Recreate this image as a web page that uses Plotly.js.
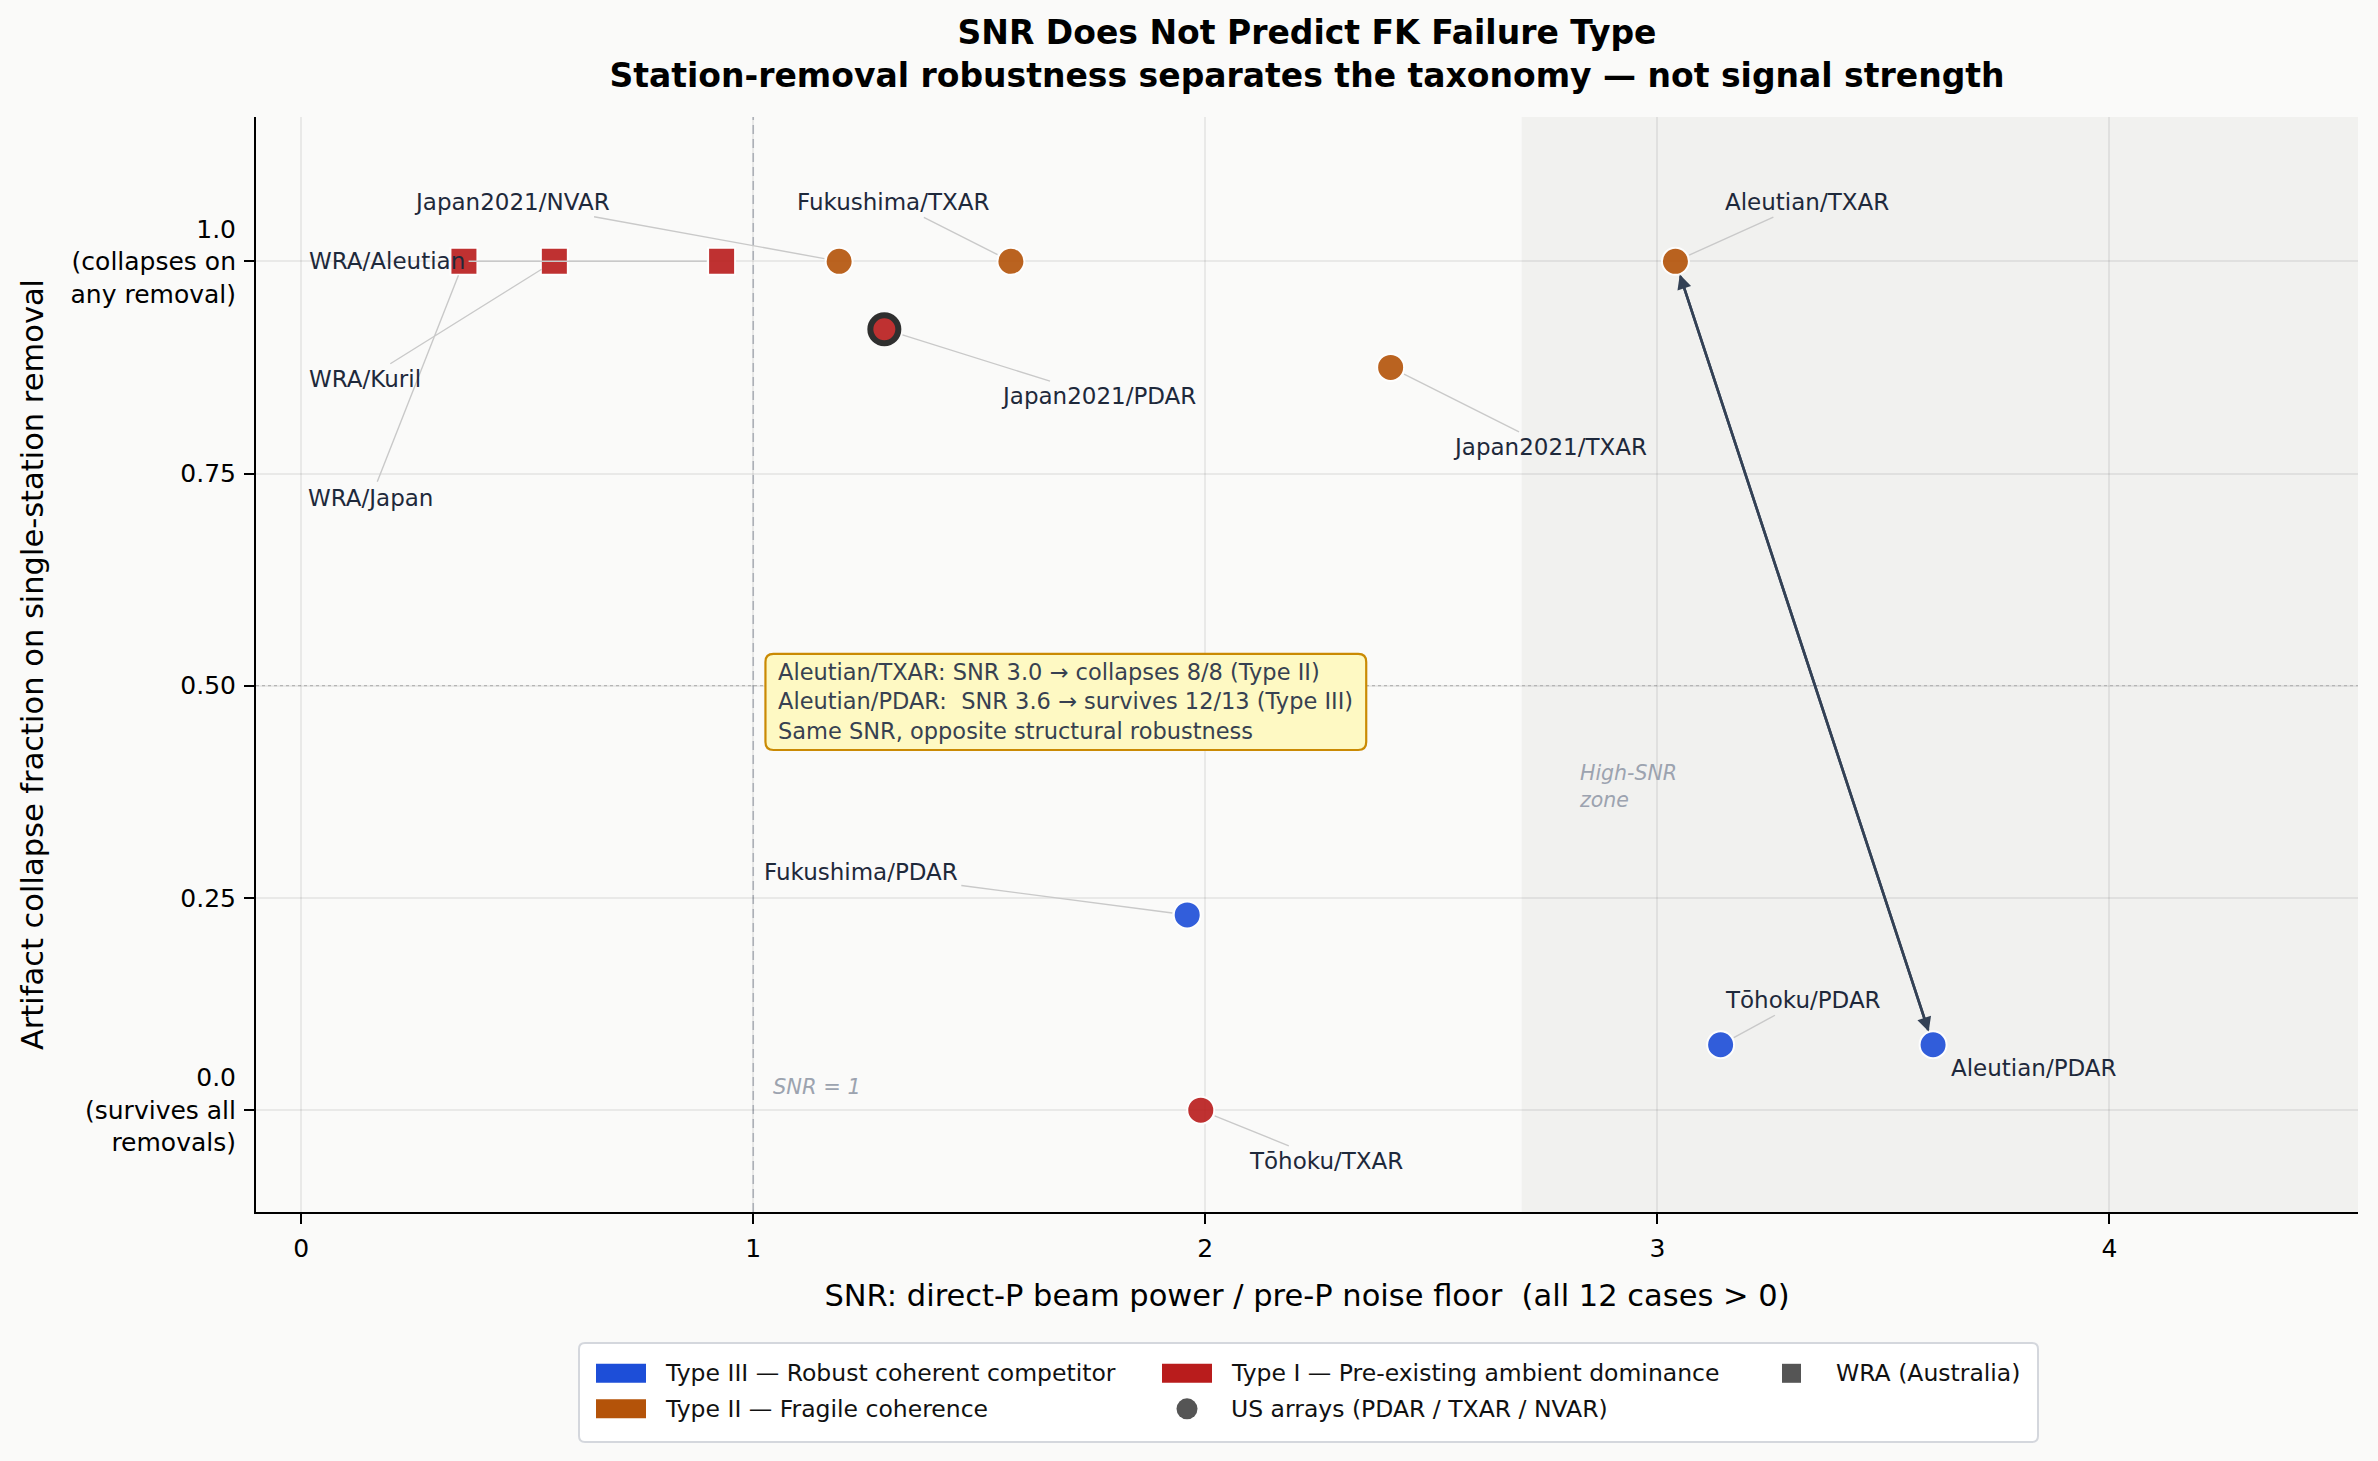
<!DOCTYPE html>
<html>
<head>
<meta charset="utf-8">
<script src="https://cdn.plot.ly/plotly-3.0.1.min.js"></script>
<style>
  html, body { margin: 0; padding: 0; background: #fafaf9; }
  #chart { width: 2378px; height: 1461px; }
</style>
</head>
<body>
<div id="chart"></div>
<script>
// ---- FK robustness cases: one entry per event/array pair ----
const cases = ['WRA/Japan', 'WRA/Kuril', 'WRA/Aleutian', 'Japan2021/NVAR', 'Fukushima/TXAR',
               'Japan2021/PDAR', 'Japan2021/TXAR', 'Aleutian/TXAR', 'Fukushima/PDAR',
               'Tōhoku/TXAR', 'Tōhoku/PDAR', 'Aleutian/PDAR'];
// direct-P beam power / pre-P noise floor
const snr = [0.36, 0.56, 0.93, 1.19, 1.57, 1.29, 2.41, 3.04, 1.96, 1.99, 3.14, 3.61];
// fraction of single-station removals under which the artifact collapses
const collapseFraction = [1.0, 1.0, 1.0, 1.0, 1.0, 0.92, 0.875, 1.0, 0.23, 0.0, 0.077, 0.077];
// failure taxonomy
const failureType = ['I', 'I', 'I', 'II', 'II', 'I', 'II', 'II', 'III', 'I', 'III', 'III'];
// array network
const network = ['WRA', 'WRA', 'WRA', 'US', 'US', 'US', 'US', 'US', 'US', 'US', 'US', 'US'];

const typeLabels = {
  'III': 'Type III — Robust coherent competitor',
  'II': 'Type II — Fragile coherence',
  'I': 'Type I — Pre-existing ambient dominance'
};
const networkLabels = { 'US': 'US arrays (PDAR / TXAR / NVAR)', 'WRA': 'WRA (Australia)' };

const xTickVals = [0, 1, 2, 3, 4];
const xTickText = ['0', '1', '2', '3', '4'];
const yTickVals = [0, 0.25, 0.5, 0.75, 1.0];
const yTickText = ['0.0<br>(survives all<br>removals)', '0.25', '0.50', '0.75', '1.0<br>(collapses on<br>any removal)'];

const highlightCase = 'Japan2021/PDAR';
const pairA = 'Aleutian/TXAR';
const pairB = 'Aleutian/PDAR';

// ---- styling ----
const FONT = 'DejaVu Sans, Verdana, sans-serif';
const typeColors = { 'I': '#b91c1c', 'II': '#b45309', 'III': '#1d4ed8' };
const networkSymbols = { 'US': 'circle', 'WRA': 'square' };
const proxyGray = '#555555';
const labelColor = '#1e293b';
const leaderColor = '#c9c9c9';

// figure geometry (px)
const W = 2378, H = 1461;
const M = { l: 256, r: 20, t: 117, b: 249 };
const plotW = W - M.l - M.r, plotH = H - M.t - M.b;
const pxToPaperX = px => (px - M.l) / plotW;
const pxToPaperY = py => (H - M.b - py) / plotH;

// where each case label sits (data units) and how far its leader stops short of the marker
const labelPlacement = {
  'WRA/Japan':      { tx: 0.154, ty: 0.721, gap: 15 },
  'WRA/Kuril':      { tx: 0.142, ty: 0.861, gap: 15 },
  'WRA/Aleutian':   { tx: 0.190, ty: 1.0,   gap: 15 },
  'Japan2021/NVAR': { tx: 0.467, ty: 1.070, gap: 15 },
  'Fukushima/TXAR': { tx: 1.310, ty: 1.070, gap: 15 },
  'Japan2021/PDAR': { tx: 1.763, ty: 0.841, gap: 19 },
  'Japan2021/TXAR': { tx: 2.762, ty: 0.781, gap: 15 },
  'Aleutian/TXAR':  { tx: 3.332, ty: 1.070, gap: 15 },
  'Fukushima/PDAR': { tx: 1.238, ty: 0.280, gap: 15 },
  'Tōhoku/TXAR':    { tx: 2.268, ty: -0.060, gap: 15 },
  'Tōhoku/PDAR':    { tx: 3.323, ty: 0.130, gap: 15 },
  'Aleutian/PDAR':  { tx: 3.833, ty: 0.050, gap: 0, noLeader: true }
};

// ---- traces ----
const pointTrace = {
  type: 'scatter',
  mode: 'markers',
  x: snr,
  y: collapseFraction,
  text: cases,
  hoverinfo: 'text',
  showlegend: false,
  cliponaxis: false,
  marker: {
    color: failureType.map(t => typeColors[t]),
    symbol: network.map(n => networkSymbols[n]),
    size: cases.map(c => c === highlightCase ? 28 : 27),
    opacity: 0.9,
    line: {
      color: cases.map(c => c === highlightCase ? '#1a1a1a' : '#ffffff'),
      width: cases.map(c => c === highlightCase ? 6 : 2)
    }
  }
};

// ---- annotations ----
const annotations = [];
cases.forEach((name, i) => {
  const p = labelPlacement[name];
  const base = {
    text: name,
    font: { family: FONT, size: 23, color: labelColor },
    xanchor: 'center', yanchor: 'middle'
  };
  if (p.noLeader) {
    annotations.push(Object.assign(base, { x: p.tx, y: p.ty, xref: 'x', yref: 'y', showarrow: false }));
  } else {
    annotations.push(Object.assign(base, {
      x: snr[i], y: collapseFraction[i], xref: 'x', yref: 'y',
      ax: p.tx, ay: p.ty, axref: 'x', ayref: 'y',
      showarrow: true, arrowhead: 0, arrowwidth: 1.4, arrowcolor: leaderColor,
      standoff: p.gap, startstandoff: 2
    }));
  }
});

// double-headed arrow linking the two Aleutian cases
const ia = cases.indexOf(pairA), ib = cases.indexOf(pairB);
[[ia, ib], [ib, ia]].forEach(([h, t]) => {
  annotations.push({
    x: snr[h], y: collapseFraction[h], xref: 'x', yref: 'y',
    ax: snr[t], ay: collapseFraction[t], axref: 'x', ayref: 'y',
    text: '', showarrow: true, arrowhead: 2, arrowsize: 1.1, arrowwidth: 2.6,
    arrowcolor: '#334155', standoff: 14, startstandoff: 14
  });
});

// comparison call-out
const fmt1 = v => (Math.round(v * 10) / 10).toFixed(1);
const nA = 8, nB = 13;
const collapsedA = Math.round(collapseFraction[ia] * nA);
const survivedB = nB - Math.round(collapseFraction[ib] * nB);
const callout = { x0: 1.027, x1: 2.356, y0: 0.4243, y1: 0.5374, rx: 0.0177, ry: 0.0094 };
annotations.push({
  x: 1.050, y: (callout.y0 + callout.y1) / 2, xref: 'x', yref: 'y', xanchor: 'left', yanchor: 'middle',
  align: 'left', showarrow: false,
  text: pairA + ': SNR ' + fmt1(snr[ia]) + ' → collapses ' + collapsedA + '/' + nA + ' (Type II)<br>' +
        pairB + ':\u00a0 SNR ' + fmt1(snr[ib]) + ' → survives ' + survivedB + '/' + nB + ' (Type III)<br>' +
        'Same SNR, opposite structural robustness',
  font: { family: FONT, size: 22.5, color: '#374151' }
});

annotations.push({
  x: 1.04, y: 0.027, xref: 'x', yref: 'y', xanchor: 'left', yanchor: 'middle',
  text: '<i>SNR = 1</i>', showarrow: false,
  font: { family: FONT, size: 21, color: '#9ca3af' }
});
annotations.push({
  x: 2.823, y: 0.381, xref: 'x', yref: 'y', xanchor: 'left', yanchor: 'middle', align: 'left',
  text: '<i>High-SNR<br>zone</i>', showarrow: false,
  font: { family: FONT, size: 20.5, color: '#9ca3af' }
});

// ---- rounded rectangle path ----
function roundedRect(x0, y0, x1, y1, rx, ry) {
  return 'M' + (x0 + rx) + ',' + y1 +
    ' L' + (x1 - rx) + ',' + y1 + ' Q' + x1 + ',' + y1 + ' ' + x1 + ',' + (y1 - ry) +
    ' L' + x1 + ',' + (y0 + ry) + ' Q' + x1 + ',' + y0 + ' ' + (x1 - rx) + ',' + y0 +
    ' L' + (x0 + rx) + ',' + y0 + ' Q' + x0 + ',' + y0 + ' ' + x0 + ',' + (y0 + ry) +
    ' L' + x0 + ',' + (y1 - ry) + ' Q' + x0 + ',' + y1 + ' ' + (x0 + rx) + ',' + y1 + ' Z';
}

const shapes = [
  // high-SNR zone
  { type: 'rect', xref: 'x', yref: 'paper', x0: 2.7, x1: 4.6, y0: 0, y1: 1,
    fillcolor: '#f1f1ef', line: { width: 0 }, layer: 'below' },
  // SNR = 1
  { type: 'line', xref: 'x', yref: 'paper', x0: 1, x1: 1, y0: 0, y1: 1,
    line: { color: '#b9bdc5', width: 1.6, dash: '9px,5px' }, layer: 'between' },
  // 50 % collapse
  { type: 'line', xref: 'paper', yref: 'y', x0: 0, x1: 1, y0: 0.5, y1: 0.5,
    line: { color: '#c2c2c2', width: 1.3, dash: 'dot' }, layer: 'between' },
  // call-out box
  { type: 'path', xref: 'x', yref: 'y',
    path: roundedRect(callout.x0, callout.y0, callout.x1, callout.y1, callout.rx, callout.ry),
    fillcolor: '#fef9c3', line: { color: '#ca8a04', width: 2.2 }, layer: 'above' }
];

// ---- legend (three columns below the axes) ----
const legendEntries = [
  { label: typeLabels['III'], swatch: 'patch',  color: typeColors['III'], col: 0, row: 0 },
  { label: typeLabels['II'],  swatch: 'patch',  color: typeColors['II'],  col: 0, row: 1 },
  { label: typeLabels['I'],   swatch: 'patch',  color: typeColors['I'],   col: 1, row: 0 },
  { label: networkLabels['US'],  swatch: 'circle', color: proxyGray, col: 1, row: 1 },
  { label: networkLabels['WRA'], swatch: 'square', color: proxyGray, col: 2, row: 0 }
];
const legendBox = { left: 579, right: 2038, top: 1343, bottom: 1442 };
const legendColX = [621, 1187, 1791.5];
const legendRowY = [1373.3, 1408.8];

shapes.push({
  type: 'path', xref: 'paper', yref: 'paper', layer: 'above',
  path: roundedRect(pxToPaperX(legendBox.left), pxToPaperY(legendBox.bottom),
                    pxToPaperX(legendBox.right), pxToPaperY(legendBox.top),
                    6 / plotW, 6 / plotH),
  fillcolor: '#ffffff', line: { color: '#d4d7dd', width: 2 }
});

legendEntries.forEach(e => {
  const cx = legendColX[e.col], cy = legendRowY[e.row];
  const half = e.swatch === 'patch' ? [25, 9.5] : e.swatch === 'circle' ? [10.5, 10.5] : [9.5, 9.5];
  shapes.push({
    type: e.swatch === 'circle' ? 'circle' : 'rect', xref: 'paper', yref: 'paper', layer: 'above',
    x0: pxToPaperX(cx - half[0]), x1: pxToPaperX(cx + half[0]),
    y0: pxToPaperY(cy + half[1]), y1: pxToPaperY(cy - half[1]),
    fillcolor: e.color, line: { width: 0 }
  });
  annotations.push({
    xref: 'paper', yref: 'paper', x: pxToPaperX(cx + 42), y: pxToPaperY(cy),
    xanchor: 'left', yanchor: 'middle', showarrow: false, text: e.label,
    font: { family: FONT, size: 23.5, color: '#111111' }
  });
});

const layout = {
  width: W, height: H,
  margin: { l: M.l, r: M.r, t: M.t, b: M.b, autoexpand: false },
  paper_bgcolor: '#fafaf9',
  plot_bgcolor: '#fafaf9',
  font: { family: FONT, color: '#000000' },
  showlegend: false,
  title: {
    text: '<b>SNR Does Not Predict FK Failure Type</b><br><b>Station-removal robustness separates the taxonomy — not signal strength</b>',
    font: { family: FONT, size: 33, color: '#000000' },
    x: 0.5, xref: 'paper', xanchor: 'center',
    y: 0.970, yref: 'container', yanchor: 'top'
  },
  xaxis: {
    range: [-0.1, 4.55], tickvals: xTickVals, ticktext: xTickText,
    showgrid: true, gridcolor: 'rgba(0,0,0,0.065)', gridwidth: 1.5, zeroline: false,
    showline: true, linecolor: '#000000', linewidth: 2,
    ticks: 'outside', ticklen: 10, tickwidth: 1.6, tickcolor: '#000000',
    ticklabelstandoff: 3,
    tickfont: { family: FONT, size: 25, color: '#000000' },
    title: { text: 'SNR: direct-P beam power / pre-P noise floor\u00a0 (all 12 cases > 0)',
             font: { family: FONT, size: 30.5, color: '#000000' }, standoff: 23 }
  },
  yaxis: {
    range: [-0.12, 1.17], tickvals: yTickVals, ticktext: yTickText,
    showgrid: true, gridcolor: 'rgba(0,0,0,0.065)', gridwidth: 1.5, zeroline: false,
    showline: true, linecolor: '#000000', linewidth: 2,
    ticks: 'outside', ticklen: 10, tickwidth: 1.6, tickcolor: '#000000',
    ticklabelstandoff: 3,
    tickfont: { family: FONT, size: 25, color: '#000000' },
    title: { text: 'Artifact collapse fraction on single-station removal',
             font: { family: FONT, size: 30.5, color: '#000000' }, standoff: 18 }
  },
  shapes: shapes,
  annotations: annotations
};

Plotly.newPlot('chart', [pointTrace], layout, { displayModeBar: false, responsive: false });
</script>
</body>
</html>
